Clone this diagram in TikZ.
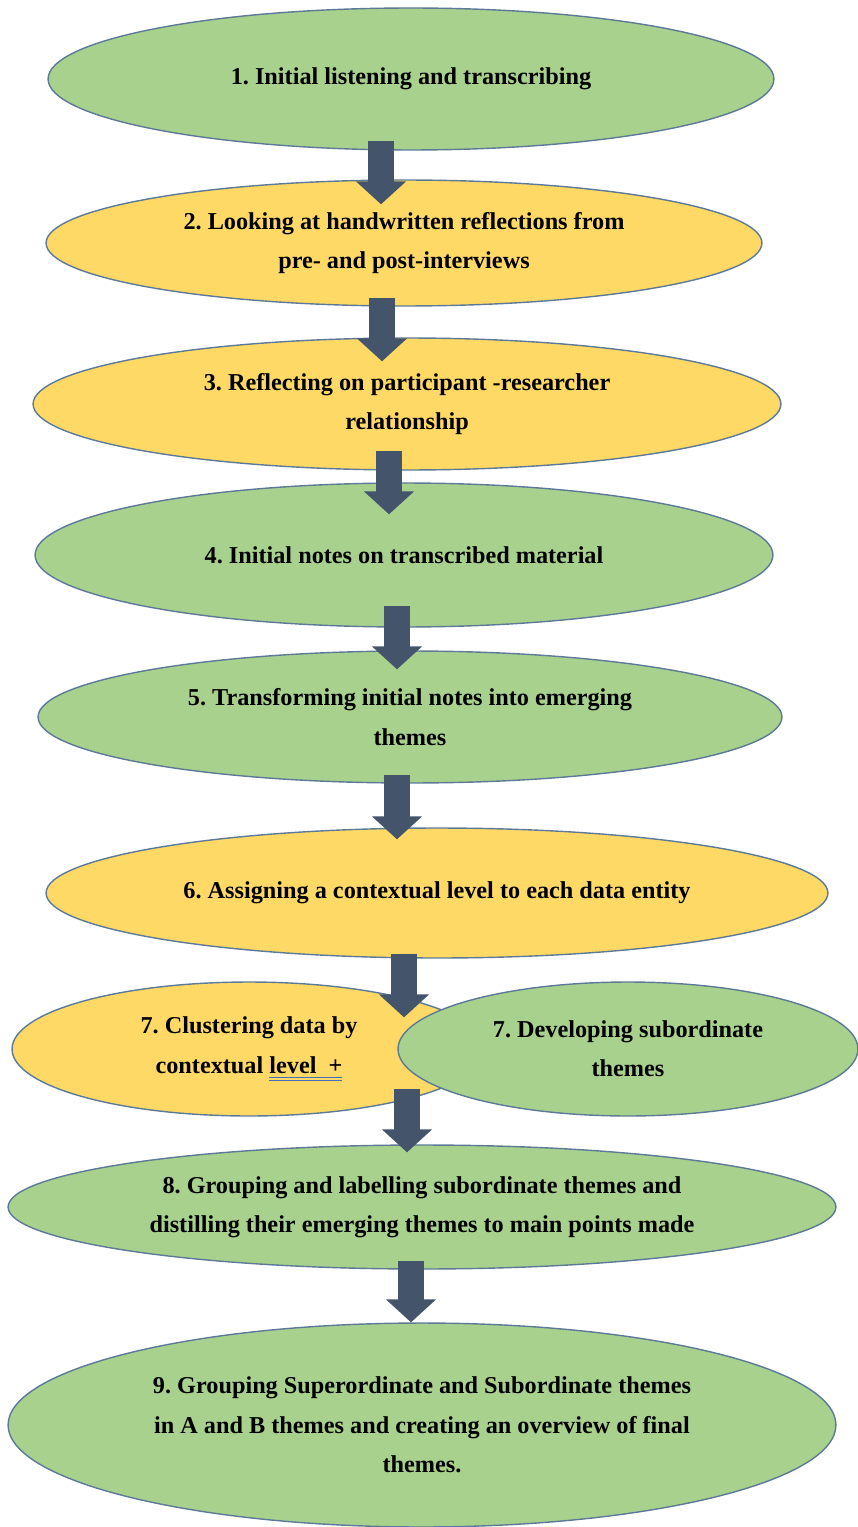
\documentclass[tikz,border=0pt]{standalone}
\usepackage{fontspec}
\setmainfont{Liberation Serif}
\usetikzlibrary{shapes.geometric,arrows.meta}
\frenchspacing

% word processor style double underline
\newcommand\gramline[1]{\setbox0\hbox{#1}\rlap{\color{gramblue}\rule[-2.8pt]{\wd0}{0.5pt}\llap{\rule[-4.3pt]{\wd0}{0.5pt}}}\box0}

\begin{document}
\begin{tikzpicture}[x=0.02cm, y=-0.02cm,
    stage/.style={ellipse, draw=edge, line width=0.8pt, inner sep=0pt, align=center, font=\fontsize{13.8}{22.4}\selectfont\bfseries},
    greenstage/.style={stage, fill=leaf},
    yellowstage/.style={stage, fill=sand},
    flow/.style={draw=flowblue, line width=0.52cm, -{Triangle[width=0.98cm, length=0.46cm]}},
  ]

\definecolor{leaf}{RGB}{169,209,142}
\definecolor{sand}{RGB}{255,217,102}
\definecolor{edge}{RGB}{92,122,152}
\definecolor{flowblue}{RGB}{68,84,106}
\definecolor{gramblue}{RGB}{70,110,190}

\useasboundingbox (0,0) rectangle (858,1527);

\node[greenstage, minimum width=14.52cm, minimum height=2.84cm] (e1) at (411,79) {1. Initial listening and transcribing};
\node[yellowstage, minimum width=14.32cm, minimum height=2.52cm] (e2) at (404,243) {2. Looking at handwritten reflections from\\pre- and post-interviews};
\node[yellowstage, minimum width=14.96cm, minimum height=2.64cm] (e3) at (407,404) {3. Reflecting on participant -researcher\\relationship};
\node[greenstage, minimum width=14.76cm, minimum height=2.88cm] (e4) at (404,555) {4. Initial notes on transcribed material};
\node[greenstage, minimum width=14.88cm, minimum height=2.64cm] (e5) at (410,717) {5. Transforming initial notes into emerging\\themes};
\node[yellowstage, minimum width=15.64cm, minimum height=2.60cm] (e6) at (437,893) {6. Assigning a contextual level to each data entity};
\node[yellowstage, minimum width=9.48cm, minimum height=2.68cm] (e7a) at (249,1049) {7. Clustering data by\\contextual \gramline{level\ \ +}};
\node[greenstage, minimum width=9.20cm, minimum height=2.68cm] (e7b) at (628,1049) {7. Developing subordinate\\themes};
\node[greenstage, minimum width=16.56cm, minimum height=2.48cm] (e8) at (422,1207) {8. Grouping and labelling subordinate themes and\\distilling their emerging themes to main points made};
\node[greenstage, minimum width=16.56cm, minimum height=4.08cm] (e9) at (422,1425) {9. Grouping Superordinate and Subordinate themes\\in A and B themes and creating an overview of final\\themes.};

% block arrows between the stages
\draw[flow] ([shift={(-30,-10)}]e1.south) -- ([shift={(-23,25)}]e2.north);
\draw[flow] ([shift={(-22,-9)}]e2.south) -- ([shift={(-25,24)}]e3.north);
\draw[flow] ([shift={(-18,-20)}]e3.south) -- ([shift={(-15,32)}]e4.north);
\draw[flow] ([shift={(-7,-22)}]e4.south) -- ([shift={(-13,19)}]e5.north);
\draw[flow] ([shift={(-13,-9)}]e5.south) -- ([shift={(-40,12)}]e6.north);
\draw[flow] ([shift={(-33,-5)}]e6.south) -- ([shift={(155,36)}]e7a.north);
\draw[flow] ([shift={(158,-28)}]e7a.south) -- ([shift={(-15,8)}]e8.north);
\draw[flow] ([shift={(-11,-9)}]e8.south) -- ([shift={(-11,0)}]e9.north);
\end{tikzpicture}
\end{document}
